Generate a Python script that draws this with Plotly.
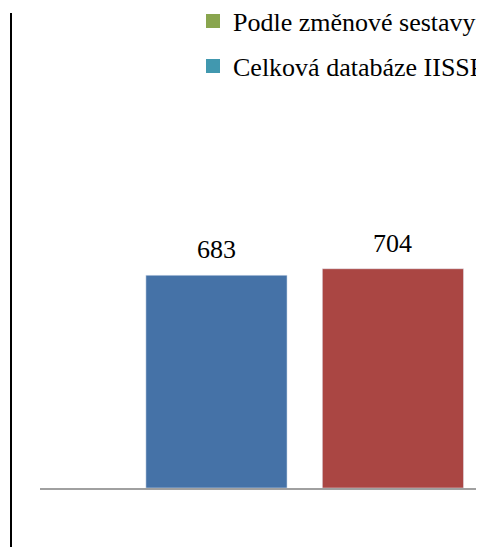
import plotly.graph_objects as go

# Data
categories = ["Kategorie 1", "Kategorie 2"]
values = [683, 704]
bar_colors = ["#4572A7", "#AA4643"]
legend_names = ["Podle změnové sestavy", "Celková databáze IISSP"]
legend_colors = ["#89A54E", "#4198AF"]

FONT = "Liberation Serif, Times New Roman, serif"

# page body has an 8px margin; figure spans the rest of the window
OFF = 8
W, H = 484 - OFF, 547 - OFF
ML, MR, MT, MB = 40 - OFF, 0, 13 - OFF, 547 - 488
plot_h = H - MT - MB
plot_w = W - ML - MR

fig = go.Figure()
fig.add_bar(x=categories, y=values, marker_color=bar_colors, width=0.8,
            showlegend=False, hoverinfo="x+y")

legend_ids = ["legend", "legend2"]
for name, col, lid in zip(legend_names, legend_colors, legend_ids):
    fig.add_bar(x=[None], y=[None], name=name, legend=lid,
                marker=dict(color=col, line=dict(color=col, width=2)))

for c, v in zip(categories, values):
    fig.add_annotation(x=c, y=v, text=str(v), showarrow=False,
                       yanchor="bottom", yshift=9,
                       font=dict(family=FONT, size=26, color="black"))

def px_to_paper_x(px):
    return (px - OFF - ML) / plot_w

def px_to_paper_y(py):
    return (H - MB - (py - OFF)) / plot_h

legend_font = dict(family=FONT, size=26, color="black")
LX = 193
fig.update_layout(
    width=W, height=H,
    margin=dict(l=ML, r=MR, t=MT, b=MB, pad=0, autoexpand=False),
    paper_bgcolor="white", plot_bgcolor="white",
    barmode="overlay",
    xaxis=dict(range=[-1.0, 1.516], showline=True, linecolor="#A0A0A0",
               linewidth=2, showticklabels=False, ticks="", showgrid=False,
               zeroline=False, fixedrange=True),
    yaxis=dict(range=[0, 1525], showline=False, showticklabels=False,
               ticks="", showgrid=False, zeroline=False, fixedrange=True),
    legend=dict(x=px_to_paper_x(LX), y=px_to_paper_y(21), xanchor="left",
                yanchor="middle", font=legend_font, bgcolor="rgba(0,0,0,0)"),
    legend2=dict(x=px_to_paper_x(LX), y=px_to_paper_y(66), xanchor="left",
                 yanchor="middle", font=legend_font, bgcolor="rgba(0,0,0,0)"),
    shapes=[dict(type="line", xref="paper", yref="paper",
                 x0=px_to_paper_x(11), x1=px_to_paper_x(11),
                 y0=px_to_paper_y(547), y1=px_to_paper_y(13),
                 line=dict(color="black", width=2))],
    showlegend=True,
)

fig.write_html("out.html")
